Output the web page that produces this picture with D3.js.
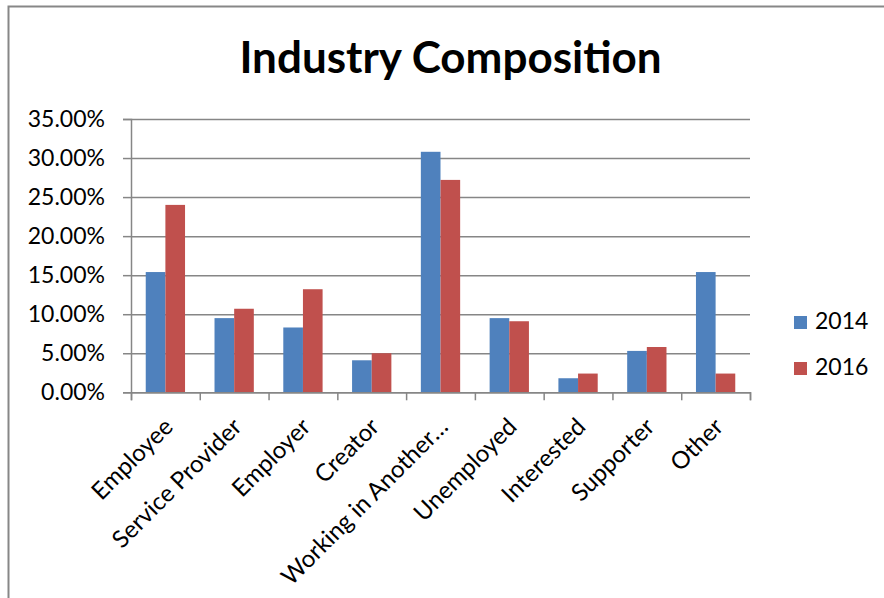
<!DOCTYPE html>
<html>
<head>
<meta charset="utf-8">
<script src="https://cdn.jsdelivr.net/npm/d3@7"></script>
<style>
  html, body { margin: 0; padding: 0; background: #fff; }
  svg { display: block; }
  text { font-family: Lato, "Open Sans", sans-serif; fill: #000; }
</style>
</head>
<body>
<svg id="chart" width="884" height="598"></svg>
<script>
const categories = ["Employee", "Service Provider", "Employer", "Creator", "Working in Another\u2026", "Unemployed", "Interested", "Supporter", "Other"];
const seriesNames = ["2014", "2016"];
const values2014 = [15.4, 9.5, 8.3, 4.1, 30.8, 9.5, 1.8, 5.3, 15.4];
const values2016 = [24.0, 10.7, 13.2, 5.0, 27.2, 9.1, 2.4, 5.8, 2.4];
const yTicks = [0, 5, 10, 15, 20, 25, 30, 35];
const colors = ["#4F81BD", "#C0504D"];

(function () {
const svg = d3.select("#chart");
const plotL = 131, plotR = 750, plotT = 119, plotB = 392.3;
const gridColor = "#868686";

// outer chart border
svg.append("rect").attr("x", 8.5).attr("y", 6.5).attr("width", 900).attr("height", 700)
  .attr("fill", "#fff").attr("stroke", "#878787").attr("stroke-width", 2);

// title
svg.append("text").attr("x", 450.5).attr("y", 73).attr("text-anchor", "middle")
  .style("font-size", "44px").style("font-weight", "bold").text("Industry Composition");

const y = d3.scaleLinear().domain([0, 35]).range([plotB, plotT]);
const x = d3.scaleBand().domain(categories).range([plotL, plotR]).padding(0);
const xs = d3.scaleBand().domain(seriesNames).range([0, x.bandwidth()]).paddingInner(0).paddingOuter(0.75);

// gridlines
const grid = svg.append("g").attr("transform", `translate(${plotL},0)`)
  .call(d3.axisLeft(y).tickValues(yTicks).tickSize(-(plotR - plotL)).tickFormat(""));
grid.select(".domain").remove();
grid.selectAll("line").attr("stroke", gridColor).attr("stroke-width", 1.5);

// bars
const data = categories.map((c, i) => ({ c, vals: [values2014[i], values2016[i]] }));
const groups = svg.append("g").selectAll("g").data(data).join("g")
  .attr("transform", d => `translate(${x(d.c)},0)`);
groups.selectAll("rect").data(d => d.vals.map((v, j) => ({ s: seriesNames[j], v, j })))
  .join("rect")
  .attr("x", d => xs(d.s)).attr("width", xs.bandwidth())
  .attr("y", d => y(d.v)).attr("height", d => y(0) - y(d.v))
  .attr("fill", d => colors[d.j]);

// y axis
const yAxis = svg.append("g").attr("transform", `translate(${plotL},0)`)
  .call(d3.axisLeft(y).tickValues(yTicks).tickSize(8).tickPadding(18)
    .tickFormat(d => d.toFixed(2) + "%"));
yAxis.select(".domain").attr("stroke", gridColor).attr("stroke-width", 1.5);
yAxis.selectAll("line").attr("stroke", gridColor).attr("stroke-width", 1.5);
yAxis.selectAll("text").style("font-size", "23px").style("font-family", "Lato, sans-serif").attr("fill", "#000");

// x axis: ticks at category boundaries
const xb = d3.scaleLinear().domain([0, categories.length]).range([plotL, plotR]);
const xAxis = svg.append("g").attr("transform", `translate(0,${plotB})`)
  .call(d3.axisBottom(xb).tickValues(d3.range(categories.length + 1)).tickSize(8).tickFormat(""));
xAxis.select(".domain").attr("stroke", gridColor).attr("stroke-width", 1.5);
xAxis.selectAll("line").attr("stroke", gridColor).attr("stroke-width", 1.5);

// category labels
svg.append("g").selectAll("text").data(categories).join("text")
  .attr("text-anchor", "end")
  .attr("transform", d => `translate(${x(d) + x.bandwidth() / 2 + 9},${plotB + 36}) rotate(-45)`)
  .style("font-size", "24px")
  .text(d => d);

// legend
const legend = svg.append("g").selectAll("g").data(seriesNames).join("g")
  .attr("transform", (d, i) => `translate(794,${316 + i * 46})`);
legend.append("rect").attr("width", 13).attr("height", 13).attr("fill", (d, i) => colors[i]);
legend.append("text").attr("x", 21).attr("y", 12.5).style("font-size", "23px").text(d => d);
})();
</script>
</body>
</html>
